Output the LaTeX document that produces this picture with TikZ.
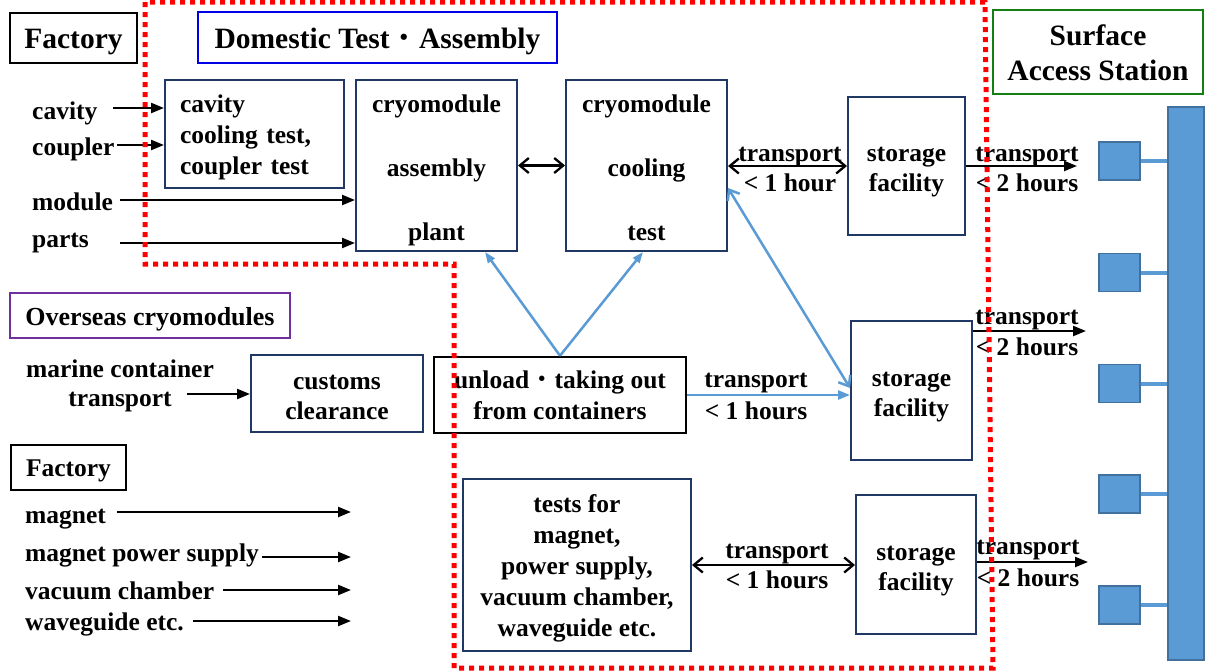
\documentclass[tikz,border=0pt]{standalone}
\usepackage{fontspec}
\setmainfont{Liberation Serif}
\newfontfamily\cjk{Noto Sans CJK JP}
\usetikzlibrary{arrows.meta}

\definecolor{navy}{RGB}{31,56,100}
\definecolor{ttlblue}{RGB}{0,0,230}
\definecolor{ttlgreen}{RGB}{20,125,20}
\definecolor{ttlpurple}{RGB}{112,48,160}
\definecolor{shaftblue}{RGB}{91,155,213}
\definecolor{shaftedge}{RGB}{65,113,156}
\definecolor{zonered}{RGB}{255,0,0}

% line struts so that texts sit at the same height in their boxes
\newcommand{\topstrut}{\rule{0pt}{0.99em}}
\newcommand{\tallstrut}{\rule{0pt}{1.1em}}
\newcommand{\botstrut}{\rule[-0.25em]{0pt}{0.25em}}

\tikzset{
  strutted/.style={execute at begin node=\topstrut, execute at end node=\botstrut},
  txt/.style={font=\bfseries\fontsize{25.5}{31}\selectfont, inner sep=0pt, align=center, strutted},
  lbl/.style={font=\bfseries\fontsize{25.5}{31}\selectfont, inner sep=0pt, anchor=west, strutted},
  big/.style={font=\bfseries\fontsize{29.5}{35}\selectfont, inner sep=0pt, align=center, strutted},
  proc/.style={txt, draw=navy, line width=2pt},
  titlebox/.style={big, line width=2.5pt},
  shaft/.style={fill=shaftblue, draw=shaftedge, line width=1.5pt, inner sep=0pt},
  link/.style={draw=shaftblue, line width=4pt},
  blk/.style={line width=2.3pt, black},
  fillhead/.style={-{Triangle[length=13pt,width=10pt]}},
  barbs/.style={{Straight Barb[length=9pt,width=15pt]}-{Straight Barb[length=9pt,width=15pt]}},
  bl/.style={line width=2.5pt, shaftblue},
  blhead/.style={-{Triangle[length=11pt,width=8pt]}},
  zone/.style={zonered, line width=5pt, dash pattern=on 5pt off 5pt}
}

\begin{document}
\begin{tikzpicture}[x=1pt,y=-1pt]
\useasboundingbox (0,0) rectangle (1205,672);

% ---- group titles
\node[titlebox, draw=black, minimum width=127pt, minimum height=50pt] (fac1) at (73.5,38) {Factory};
\node[titlebox, draw=ttlblue, line width=2pt, minimum width=359pt, minimum height=51pt] (dom) at (377.5,37.5) {Domestic Test{\cjk\mdseries ・}Assembly};
\node[titlebox, draw=ttlgreen, minimum width=210pt, minimum height=84pt] (sas) at (1098,52) {\rule{0pt}{1.0em}Surface\\Access Station};
\node[titlebox, draw=ttlpurple, font=\bfseries\fontsize{26}{31}\selectfont, minimum width=280pt, minimum height=45pt] (ovs) at (150,315.5) {Overseas cryomodules};
\node[titlebox, draw=black, font=\bfseries\fontsize{25.5}{31}\selectfont, minimum width=115pt, minimum height=45pt] (fac2) at (68.5,467.5) {Factory};

% ---- process boxes
\node[proc, minimum width=179pt, minimum height=108pt, text width=149pt, align=left] (cav) at (254.5,134) {cavity\\cooling test,\\coupler test};
\node[proc, minimum width=161pt, minimum height=171pt] (asm) at (436.5,165.5) {\tallstrut cryomodule\\[33pt]assembly\\[33pt]plant};
\node[proc, minimum width=161pt, minimum height=171pt] (cool) at (646.5,165.5) {\tallstrut cryomodule\\[33pt]cooling\\[33pt]test};
\node[proc, minimum width=117pt, minimum height=138pt, font=\bfseries\fontsize{25.5}{30}\selectfont] (st1) at (906.5,166) {\tallstrut storage\\facility};
\node[proc, minimum width=172pt, minimum height=77pt, font=\bfseries\fontsize{25.5}{30}\selectfont] (cus) at (337,393.5) {\tallstrut customs\\clearance};
\node[txt, draw=black, line width=2.5pt, minimum width=252pt, minimum height=76pt] (unl) at (560,395) {\topstrut unload{\cjk\mdseries ・}taking out\\from containers};
\node[proc, minimum width=121pt, minimum height=139pt, font=\bfseries\fontsize{25.5}{30}\selectfont] (st2) at (911.5,390.5) {\tallstrut storage\\facility};
\node[proc, minimum width=228pt, minimum height=172pt] (tst) at (577,565) {\topstrut tests for\\magnet,\\power supply,\\vacuum chamber,\\waveguide etc.};
\node[proc, minimum width=120pt, minimum height=139pt, font=\bfseries\fontsize{25.5}{30}\selectfont] (st3) at (916,564.5) {\tallstrut storage\\facility};

% ---- access shaft with its five branches
\node[shaft, minimum width=36pt, minimum height=553pt] (bar) at (1186,383.5) {};
\foreach \i/\y in {1/161,2/272.5,3/383.5,4/494,5/605}{
  \node[shaft, minimum width=41pt, minimum height=38pt] (sq\i) at (1119.5,\y) {};
  \draw[link] (sq\i.east) -- (sq\i.east -| bar.west);
}

% ---- factory inputs (top)
\node[lbl] (lcav) at (32,110) {cavity};
\node[lbl] (lcou) at (32,146) {coupler};
\node[lbl] (lmod) at (32,201) {module};
\node[lbl] (lpar) at (32,238) {parts};
\coordinate (i1) at (113,108);
\coordinate (i2) at (117,145);
\coordinate (i3) at (120,200);
\coordinate (i4) at (120,243);
\draw[blk, fillhead] (i1) -- (i1 -| cav.west);
\draw[blk, fillhead] (i2) -- (i2 -| cav.west);
\draw[blk, fillhead] (i3) -- (i3 -| asm.west);
\draw[blk, fillhead] (i4) -- (i4 -| asm.west);

% ---- cryomodule line
\draw[blk, barbs] (asm.east) -- (cool.west);
\draw[blk, barbs] (cool.east |- st1.west) -- (st1.west);
\node[txt] (tr1) at (790,152) {transport};
\node[txt] (tm1) at (790,182) {< 1 hour};
\coordinate (o1) at (1077,166);
\draw[blk, fillhead] (st1.east) -- (o1);
\node[txt] (tr2) at (1027,152) {transport};
\node[txt] (tm2) at (1027,182) {< 2 hours};

% ---- overseas cryomodules
\node[txt, font=\bfseries\fontsize{25.5}{29}\selectfont] (lmar) at (120,383) {\topstrut marine container\\transport};
\coordinate (m1) at (187,394);
\draw[blk, fillhead] (m1) -- (m1 -| cus.west);
\draw[bl, blhead] (unl.north) -- ([xshift=48.5pt]asm.south);
\draw[bl, blhead] (unl.north) -- ([xshift=-3.5pt]cool.south);
\draw[bl, {Straight Barb[length=9pt,width=14pt]}-{Straight Barb[length=9pt,width=14pt]}] (cool.east |- 0,188) -- (st2.west |- 0,388);
\draw[bl, -{Triangle[length=12pt,width=9pt]}] (unl.east) -- (unl.east -| st2.west);
\node[txt] (tr3) at (756,378) {transport};
\node[txt] (tm3) at (756,410) {< 1 hours};
\coordinate (o2) at (1086,331);
\draw[blk, fillhead] (st2.east |- o2) -- (o2);
\node[txt] (tr4) at (1027,315) {transport};
\node[txt] (tm4) at (1027,346) {< 2 hours};

% ---- factory inputs (bottom)
\node[lbl] (lmag) at (25,514) {magnet};
\node[lbl] (lmps) at (25,552) {magnet power supply};
\node[lbl] (lvac) at (25,590) {vacuum chamber};
\node[lbl] (lwav) at (25,621) {waveguide etc.};
\coordinate (b1) at (117,512);  \coordinate (b1e) at (351,512);
\coordinate (b2) at (262,557);  \coordinate (b2e) at (351,557);
\coordinate (b3) at (223,590);  \coordinate (b3e) at (351,590);
\coordinate (b4) at (193,621);  \coordinate (b4e) at (351,621);
\draw[blk, fillhead] (b1) -- (b1e);
\draw[blk, fillhead] (b2) -- (b2e);
\draw[blk, fillhead] (b3) -- (b3e);
\draw[blk, fillhead] (b4) -- (b4e);

% ---- magnet line
\draw[blk, barbs] (tst.east) -- (tst.east -| st3.west);
\node[txt] (tr5) at (777,549) {transport};
\node[txt] (tm5) at (777,579) {< 1 hours};
\coordinate (o3) at (1088,562);
\draw[blk, fillhead] (st3.east |- o3) -- (o3);
\node[txt] (tr6) at (1028,545) {transport};
\node[txt] (tm6) at (1028,577) {< 2 hours};

% ---- domestic site boundary
\draw[zone] (145,2) -- (145,264) -- (454,264) -- (454,668) -- (993,668) -- (985,2) -- cycle;
\end{tikzpicture}
\end{document}
